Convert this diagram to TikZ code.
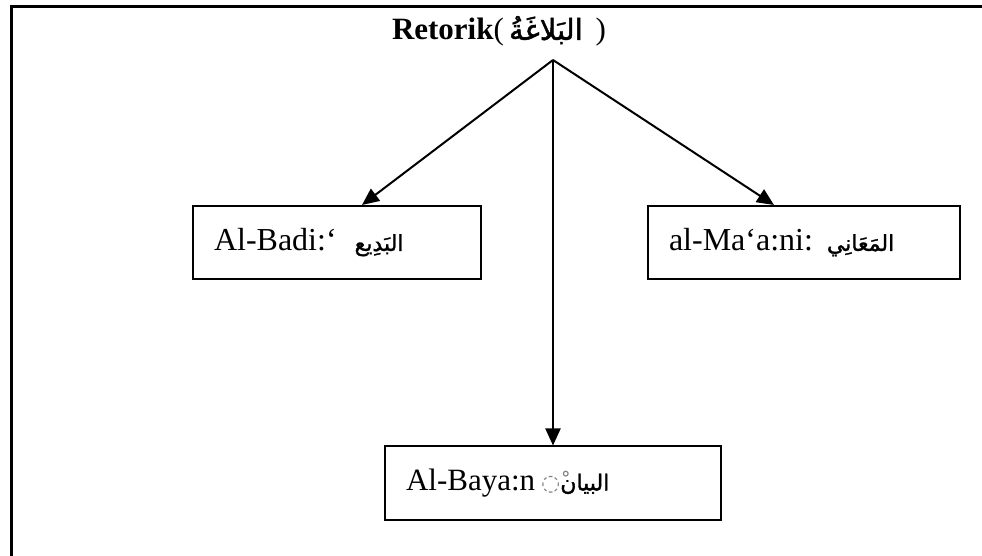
\documentclass[tikz,border=0pt]{standalone}
\usepackage{fontspec}
\usepackage{xcolor}
\setmainfont{Liberation Serif}
\newfontfamily\arabicfont[Script=Arabic,FakeBold=1.5]{DejaVu Sans}
\newfontfamily\markfont{DejaVu Sans}
\TeXXeTstate=1
\usetikzlibrary{arrows.meta}
\newcommand{\artext}[2][11]{{\fontsize{#1}{#1}\arabicfont\beginR #2\endR}}
\tikzstyle{branch box}=[
        draw,
        line width = 1pt,
        minimum height = 36.5pt,
        inner xsep = 10.5pt,
        inner ysep = 0pt,
        align = left,
        font = \fontsize{16}{18}\selectfont
    ]

\begin{document}
\begin{tikzpicture}[x=0.5pt, y=-0.5pt, line width=1pt, >={Triangle[length=8.5pt,width=7.5pt]}]
        \useasboundingbox (0,0) rectangle (982,556);
        \draw[line width=1.5pt] (11,556) -- (11,7) -- (982,7);

        \node[anchor=base west, inner sep=0pt, font=\fontsize{15.5}{18}\selectfont] (title) at (391,40) {\textbf{Retorik}(\,\artext[14.5]{البَلاغَةُ}\, )};
        \coordinate (apex) at (553,60);
        \node[branch box, text width=123pt] (badi) at (337,242.5) {Al-Badi:‘\hspace{9pt}\artext{البَدِيع}};
        \node[branch box, text width=135pt] (maani) at (804,242.5) {al-Ma‘a:ni:\hspace{7pt}\artext{المَعَانِي}};
        \node[branch box, text width=147pt, font=\fontsize{15.5}{18}\selectfont] (bayan) at (553,483) {Al-Baya:n\hspace{3pt}{\fontsize{11}{12}\markfont\color{gray}◌ْ}\artext{البيان}};

        \draw[->] (apex) -- ([xshift=12.5pt]badi.north);
        \draw[->] (apex) -- ([xshift=-15pt]maani.north);
        \draw[->] (apex) -- (bayan.north);
    \end{tikzpicture}
\end{document}
